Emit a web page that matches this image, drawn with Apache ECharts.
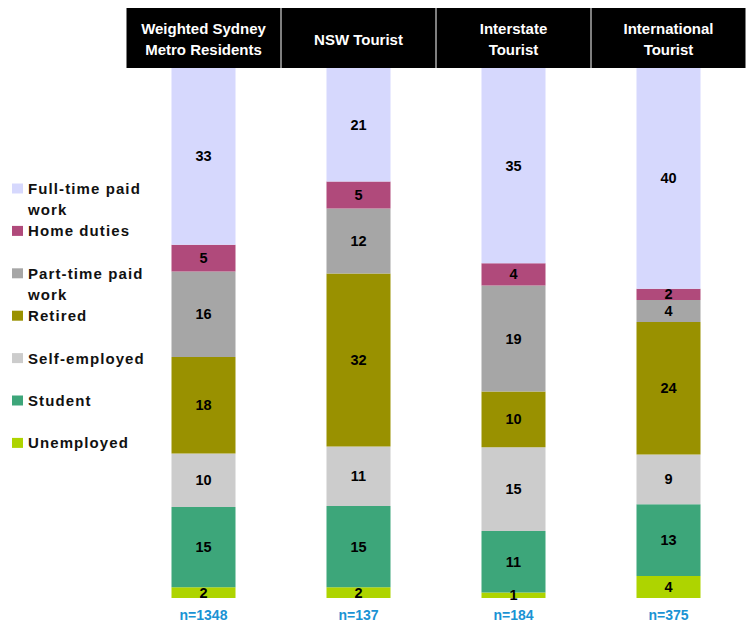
<!DOCTYPE html>
<html>
<head>
<meta charset="utf-8">
<script src="https://cdn.jsdelivr.net/npm/echarts@6/dist/echarts.min.js"></script>
<style>
  html, body { margin: 0; padding: 0; background: #fff; }
  #chart { width: 754px; height: 623px; }
  /* legend text in the reference is slightly letter-spaced */
  #chart text[fill="#111111"], #chart text[fill="rgb(17,17,17)"], #chart text[fill="rgb(17, 17, 17)"] { letter-spacing: 1.1px; }
</style>
</head>
<body>
<div id="chart"></div>
<script>
// ---- data ----
const categories = ['Weighted Sydney\nMetro Residents', 'NSW Tourist', 'Interstate\nTourist', 'International\nTourist'];
const sampleSizes = ['n=1348', 'n=137', 'n=184', 'n=375'];
// series listed bottom-to-top in the stack
const seriesNames = ['Unemployed', 'Student', 'Self-employed', 'Retired', 'Part-time paid work', 'Home duties', 'Full-time paid work'];
const unemployed   = [2, 2, 1, 4];
const student      = [15, 15, 11, 13];
const selfEmployed = [10, 11, 15, 9];
const retired      = [18, 32, 10, 24];
const partTime     = [16, 12, 19, 4];
const homeDuties   = [5, 5, 4, 2];
const fullTime     = [33, 21, 35, 40];

const seriesValues = [unemployed, student, selfEmployed, retired, partTime, homeDuties, fullTime];
const seriesColors = ['#AED400', '#3DA67A', '#CCCCCC', '#999100', '#A6A6A6', '#B04A7B', '#D6D8FD'];

// column totals -> each bar drawn as share of 100%
const totals = categories.map((_, i) => seriesValues.reduce((s, arr) => s + arr[i], 0));

const FONT = '"Liberation Sans", Arial, sans-serif';

const chart = echarts.init(document.getElementById('chart'), null, { renderer: 'svg' });

const series = seriesNames.map((name, k) => ({
  name: name,
  type: 'bar',
  stack: 'total',
  barWidth: 64,
  xAxisIndex: 0,
  yAxisIndex: 0,
  itemStyle: { color: seriesColors[k] },
  label: {
    show: true,
    position: 'inside',
    color: '#000',
    fontFamily: FONT,
    fontWeight: 'bold',
    fontSize: 14.5,
    formatter: p => String(seriesValues[k][p.dataIndex])
  },
  emphasis: { disabled: true },
  data: seriesValues[k].map((v, i) => v / totals[i] * 100)
}));

chart.setOption({
  animation: false,
  backgroundColor: '#fff',
  textStyle: { fontFamily: FONT },
  grid: { left: 126, right: 8, top: 68, bottom: 25, containLabel: false },
  legend: {
    orient: 'vertical',
    left: 12,
    top: 157,
    padding: 0,
    itemWidth: 11,
    itemHeight: 10,
    itemGap: -20.6,
    icon: 'rect',
    selectedMode: false,
    data: seriesNames.slice().reverse(),
    formatter: name => {
      const parts = name.endsWith(' work') ? [name.slice(0, -5), 'work'] : [name, ''];
      return '\n' + parts.join('\n');
    },
    textStyle: {
      color: '#111111',
      fontFamily: FONT,
      fontWeight: 'bold',
      fontSize: 15,
      lineHeight: 21
    },
    itemStyle: { borderWidth: 0 }
  },
  xAxis: [
    {
      type: 'category',
      position: 'top',
      data: categories,
      axisLine: { show: false },
      axisTick: { show: false },
      axisLabel: {
        interval: 0,
        margin: 0,
        backgroundColor: '#000',
        width: 154,
        padding: [10, 0, 8, 0],
        align: 'center',
        formatter: v => {
          const lines = v.split('\n');
          if (lines.length === 2) return '{a|' + lines[0] + '}\n{a|' + lines[1] + '}';
          return '{b|' + v + '}';
        },
        rich: {
          a: { color: '#fff', fontFamily: FONT, fontWeight: 'bold', fontSize: 15, lineHeight: 21, align: 'center' },
          b: { color: '#fff', fontFamily: FONT, fontWeight: 'bold', fontSize: 15, lineHeight: 42, align: 'center' }
        }
      }
    },
    {
      type: 'category',
      position: 'bottom',
      data: sampleSizes,
      axisLine: { show: false },
      axisTick: { show: false },
      axisLabel: {
        interval: 0,
        margin: 10,
        color: '#1A93D4',
        fontFamily: FONT,
        fontWeight: 'bold',
        fontSize: 14
      }
    }
  ],
  yAxis: {
    type: 'value',
    min: 0,
    max: 100,
    show: false,
    splitLine: { show: false }
  },
  series: series
});
</script>
</body>
</html>
